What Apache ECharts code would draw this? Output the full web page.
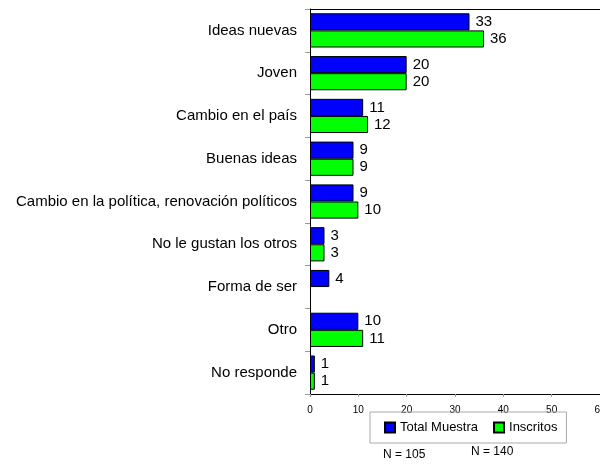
<!DOCTYPE html>
<html><head><meta charset="utf-8">
<script src="https://cdn.jsdelivr.net/npm/echarts@6/dist/echarts.min.js"></script>
<style>html,body{margin:0;padding:0;background:#fff}#c{width:600px;height:464px}</style>
</head><body><div id="c"></div>
<script>
const categories = ["Ideas nuevas","Joven","Cambio en el país","Buenas ideas","Cambio en la política, renovación políticos","No le gustan los otros","Forma de ser","Otro","No responde"];
const totalMuestra = [33,20,11,9,9,3,4,10,1];
const inscritos = [36,20,12,9,10,3,null,11,1];
const seriesNames = ["Total Muestra","Inscritos"];
const nLabels = ["N = 105","N = 140"];
const xTicks = {min:0, max:60, interval:10};

const font = "Liberation Sans, Arial, sans-serif";
const chart = echarts.init(document.getElementById('c'), null, {renderer:'canvas'});
const lbl = {show:true, position:'right', distance:6, color:'#000', fontSize:15, fontFamily:font,
  formatter: p => p.value == null ? '' : p.value};
chart.setOption({
  animation:false,
  grid:{left:310, right:0, top:9, bottom:70, containLabel:false, outerBoundsMode:'none'},
  xAxis:[{type:'value', min:xTicks.min, max:xTicks.max, interval:xTicks.interval, position:'bottom',
    axisLine:{show:true, lineStyle:{color:'#000', width:1}},
    axisTick:{show:true, length:3, lineStyle:{color:'#999'}},
    axisLabel:{color:'#000', fontSize:10, fontFamily:font, margin:11, hideOverlap:false, showMaxLabel:true},
    splitLine:{show:false}},
   {type:'value', min:xTicks.min, max:xTicks.max, position:'top',
    axisLine:{show:true, lineStyle:{color:'#000', width:1}},
    axisTick:{show:false}, axisLabel:{show:false}, splitLine:{show:false}}],
  yAxis:{type:'category', data:categories, inverse:true,
    axisLine:{show:true, lineStyle:{color:'#000'}},
    axisTick:{show:true, length:5, lineStyle:{color:'#999'}},
    axisLabel:{color:'#000', fontSize:15, fontFamily:font, margin:13}},
  legend:{left:370, top:412, data:seriesNames, itemWidth:10, itemHeight:10, itemGap:15,
    icon:'rect', borderColor:'#aaa', borderWidth:1, padding:[9,9,9,14],
    textStyle:{color:'#000', fontSize:13, fontFamily:font}},
  series:[
    {name:seriesNames[0], type:'bar', data:totalMuestra, barGap:'0%', barCategoryGap:'20%',
     itemStyle:{color:'#0000ff', borderColor:'#000', borderWidth:1}, label:lbl},
    {name:seriesNames[1], type:'bar', data:inscritos, barGap:'0%', barCategoryGap:'20%',
     itemStyle:{color:'#00ff00', borderColor:'#000', borderWidth:1}, label:lbl}
  ],
  graphic:[
    {type:'text', left:383, top:449, style:{text:nLabels[0], fill:'#000', font:'12px '+font}},
    {type:'text', left:471, top:446, style:{text:nLabels[1], fill:'#000', font:'12px '+font}}
  ]
});
</script></body></html>
